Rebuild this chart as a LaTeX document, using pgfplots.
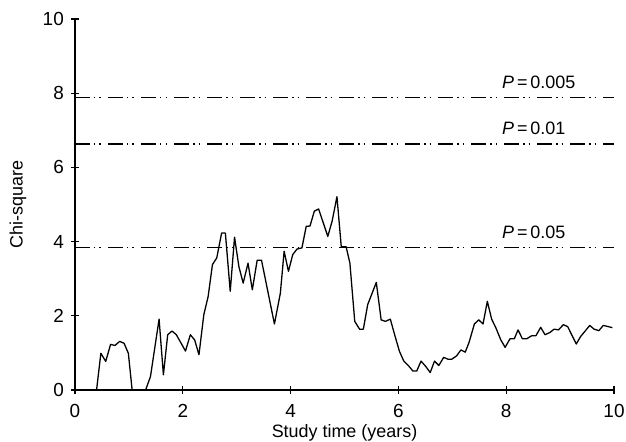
\documentclass[border=0pt]{standalone}
\usepackage{fontspec}
\setmainfont{Liberation Sans}
\usepackage{pgfplots}
\pgfplotsset{compat=1.18}

\begin{document}
\begin{tikzpicture}
\begin{axis}[
  at={(0,0)}, anchor=south west,
  scale only axis, width=539bp, height=371bp,
  xmin=0, xmax=10, ymin=0, ymax=10,
  axis x line*=bottom, axis y line*=left,
  x axis line style={-}, y axis line style={-},
  axis line style={line width=1.3pt},
  xtick={0,2,...,10}, ytick={0,2,...,10},
  tick align=center, major tick length=8bp,
  tick style={line width=1.1pt, black},
  /pgf/number format/assume math mode=true,
  tick label style={font=\fontsize{19}{21}\selectfont},
  xticklabel style={inner sep=0pt, anchor=north, yshift=-10bp},
  yticklabel style={inner sep=0pt, anchor=east, xshift=-7bp},
  label style={font=\fontsize{18}{20}\selectfont},
  xlabel={Study time (years)},
  ylabel={Chi-square},
  xlabel style={at={(axis description cs:0.5,0)}, anchor=base, yshift=-47bp},
  ylabel style={at={(axis description cs:0,0.5)}, anchor=center, yshift=57bp},
  clip=false,
]
% critical values
\addplot[black, line width=1.3pt, dash pattern=on 15bp off 4bp on 1.5bp off 4bp on 1.5bp off 7bp]
  coordinates {(0,7.88) (10,7.88)};
\addplot[black, line width=1.3pt, dash pattern=on 15bp off 4bp on 1.5bp off 4bp on 1.5bp off 7bp]
  coordinates {(0,6.63) (10,6.63)};
\addplot[black, line width=1.3pt, dash pattern=on 15bp off 4bp on 1.5bp off 4bp on 1.5bp off 7bp]
  coordinates {(0,3.84) (10,3.84)};
\node[anchor=south west, inner sep=0pt, font=\fontsize{18}{20}\selectfont]
  at (axis cs:7.92,7.88) [yshift=9bp] {\itshape P\upshape\,=\,0.005};
\node[anchor=south west, inner sep=0pt, font=\fontsize{18}{20}\selectfont]
  at (axis cs:7.92,6.63) [yshift=9bp] {\itshape P\upshape\,=\,0.01};
\node[anchor=south west, inner sep=0pt, font=\fontsize{18}{20}\selectfont]
  at (axis cs:7.92,3.84) [yshift=9bp] {\itshape P\upshape\,=\,0.05};
% chi-square statistic over study time
\addplot[black, line width=1.3pt, line join=round] coordinates {
(0.40,0) (0.48,0.99) (0.57,0.77) (0.66,1.23) (0.74,1.20) (0.83,1.31)
(0.91,1.26) (0.99,0.99) (1.06,0) (1.31,0) (1.40,0.36) (1.56,1.91)
(1.64,0.41) (1.72,1.49) (1.80,1.59) (1.88,1.49) (2.05,1.05) (2.14,1.49)
(2.22,1.35) (2.30,0.95) (2.39,2.03) (2.47,2.52) (2.55,3.38) (2.63,3.56)
(2.72,4.23) (2.79,4.23) (2.88,2.66) (2.96,4.12) (3.04,3.33) (3.12,2.88)
(3.21,3.42) (3.29,2.70) (3.38,3.50) (3.46,3.50) (3.70,1.78) (3.81,2.61)
(3.88,3.74) (3.96,3.20) (4.04,3.65) (4.12,3.80) (4.21,3.83) (4.29,4.41)
(4.36,4.42) (4.44,4.82) (4.52,4.88) (4.69,4.14) (4.77,4.55) (4.86,5.21)
(4.94,3.86) (5.03,3.86) (5.10,3.42) (5.19,1.85) (5.28,1.64) (5.35,1.64)
(5.43,2.30) (5.59,2.90) (5.68,1.89) (5.76,1.85) (5.85,1.91) (5.94,1.44)
(6.02,1.04) (6.10,0.78) (6.19,0.65) (6.27,0.51) (6.34,0.51) (6.42,0.78)
(6.51,0.63) (6.59,0.47) (6.67,0.78) (6.75,0.66) (6.84,0.88) (6.92,0.83)
(6.99,0.83) (7.08,0.92) (7.16,1.08) (7.24,1.02) (7.31,1.28) (7.41,1.78)
(7.49,1.89) (7.57,1.78) (7.65,2.39) (7.73,1.91) (7.81,1.67) (7.90,1.35)
(7.98,1.15) (8.07,1.38) (8.15,1.38) (8.22,1.62) (8.30,1.38) (8.38,1.38)
(8.47,1.46) (8.55,1.46) (8.64,1.69) (8.72,1.49) (8.81,1.55) (8.89,1.64)
(8.97,1.62) (9.06,1.76) (9.14,1.71) (9.30,1.24) (9.38,1.44) (9.55,1.74)
(9.63,1.64) (9.72,1.60) (9.80,1.74) (9.89,1.71) (9.97,1.68)
};
\end{axis}
\pgfresetboundingbox
\path[use as bounding box] (-75bp,-52bp) rectangle (551bp,390bp);
\end{tikzpicture}
\end{document}
